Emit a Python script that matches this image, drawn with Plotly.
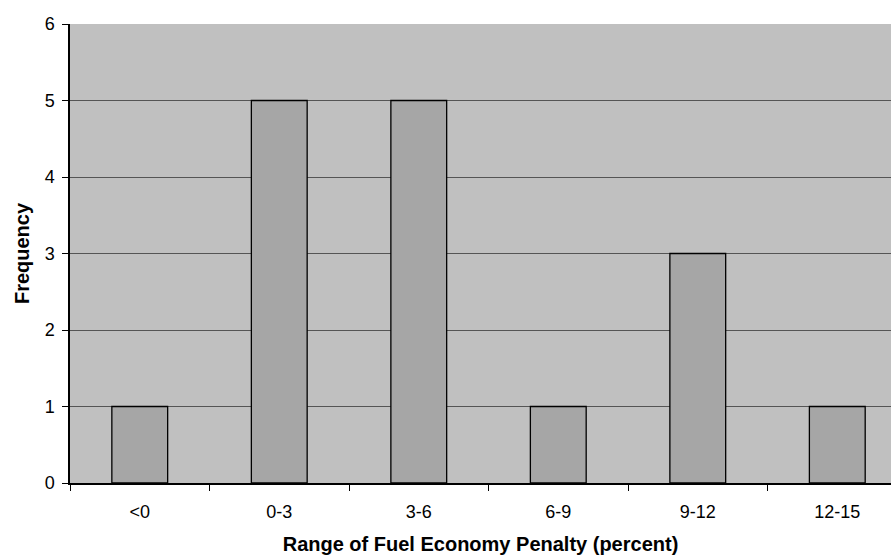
import plotly.graph_objects as go

categories = ["<0", "0-3", "3-6", "6-9", "9-12", "12-15"]
frequency = [1, 5, 5, 1, 3, 1]
y_ticks = [0, 1, 2, 3, 4, 5, 6]

FONT = "Liberation Sans, Arial, sans-serif"

fig = go.Figure()
fig.add_trace(go.Bar(
    x=categories,
    y=frequency,
    width=0.4,
    marker=dict(color="#A6A6A6", line=dict(color="#000000", width=1.3)),
    showlegend=False,
))

fig.update_layout(
    width=891,
    height=558,
    margin=dict(l=70, r=0, t=24, b=75),
    paper_bgcolor="#FFFFFF",
    plot_bgcolor="#C0C0C0",
    font=dict(family=FONT, color="#000000", size=18),
    bargap=0.6,
)

fig.update_xaxes(
    type="category",
    range=[-0.5, 5.385],
    tickson="boundaries",
    ticks="outside",
    ticklen=6,
    tickwidth=1,
    tickcolor="#000000",
    showline=True,
    linecolor="#000000",
    linewidth=1.5,
    showgrid=False,
    tickfont=dict(size=18),
    ticklabelstandoff=12,
    title=dict(text="<b>Range of Fuel Economy Penalty (percent)</b>",
               font=dict(size=20), standoff=16),
)

fig.update_yaxes(
    range=[0, 6],
    tickvals=y_ticks,
    ticks="outside",
    ticklen=6,
    tickwidth=1,
    tickcolor="#000000",
    showline=True,
    linecolor="#000000",
    linewidth=1.5,
    showgrid=True,
    gridcolor="#555555",
    gridwidth=1,
    zeroline=False,
    tickfont=dict(size=18),
    ticklabelstandoff=4,
    title=dict(text="<b>Frequency</b>", font=dict(size=20), standoff=10),
)

fig.write_html(
    "out.html",
    config={"displayModeBar": False},
    post_script="document.body.style.margin='0';document.body.style.overflow='hidden';",
)
